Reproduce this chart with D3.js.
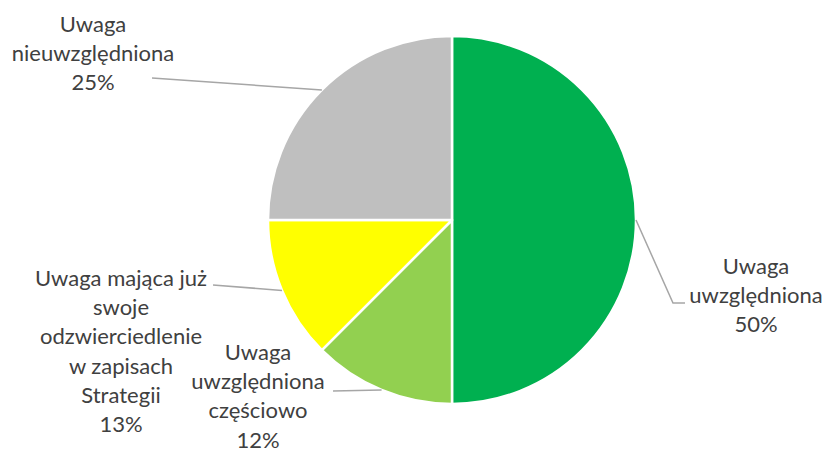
<!DOCTYPE html>
<html>
<head>
<meta charset="utf-8">
<script src="https://cdn.jsdelivr.net/npm/d3@7"></script>
<style>
  html, body { margin: 0; padding: 0; background: #fff; }
  #chart { width: 825px; height: 453px; }
</style>
</head>
<body>
<div id="chart"></div>
<script>
// data
var categories = ["Uwaga uwzględniona", "Uwaga uwzględniona częściowo",
                  "Uwaga mająca już swoje odzwierciedlenie w zapisach Strategii", "Uwaga nieuwzględniona"];
var shares = [50, 12.5, 12.5, 25];
var percentLabels = ["50%", "12%", "13%", "25%"];
var labelLines = [
    ["Uwaga", "uwzględniona"],
    ["Uwaga", "uwzględniona", "częściowo"],
    ["Uwaga mająca już", "swoje", "odzwierciedlenie", "w zapisach", "Strategii"],
    ["Uwaga", "nieuwzględniona"]
];
var colors = ["#00B050", "#92D050", "#FFFF00", "#BFBFBF"];

var width = 825, height = 453;
var cx = 452, cy = 220, radius = 184;
var lineHeight = 29.2;

// label placement (centre x, first baseline y) and leader start / elbow
var labelLayout = [
    {x: 756, y: 274, leader: [[685, 303], [673, 303]]},
    {x: 258, y: 360, leader: [[333, 391]]},
    {x: 121, y: 286, leader: [[213, 285]]},
    {x: 93,  y: 32,  leader: [[152, 78]]}
];

var svg = d3.select("#chart").append("svg")
    .attr("width", width)
    .attr("height", height);

var pie = d3.pie().sort(null).value(function(d) { return d; });
var arcs = pie(shares);

var arc = d3.arc().innerRadius(0).outerRadius(radius);

var g = svg.append("g")
    .attr("transform", "translate(" + cx + "," + cy + ")");

g.selectAll(".slice")
    .data(arcs)
  .enter().append("path")
    .attr("class", "slice")
    .attr("d", arc)
    .attr("fill", function(d, i) { return colors[i]; })
    .attr("stroke", "#fff")
    .attr("stroke-width", 2.5)
    .attr("stroke-linejoin", "round");

// leader lines
svg.selectAll(".leader")
    .data(arcs)
  .enter().append("polyline")
    .attr("class", "leader")
    .attr("points", function(d, i) {
        var mid = (d.startAngle + d.endAngle) / 2;
        var end = [cx + radius * Math.sin(mid), cy - radius * Math.cos(mid)];
        var pts = labelLayout[i].leader.concat([end]);
        return pts.map(function(p) { return p.join(","); }).join(" ");
    })
    .attr("fill", "none")
    .attr("stroke", "#A6A6A6")
    .attr("stroke-width", 1.5);

// labels
var labels = svg.selectAll(".label")
    .data(arcs)
  .enter().append("text")
    .attr("class", "label")
    .attr("text-anchor", "middle")
    .style("font-family", "Lato, 'Open Sans', sans-serif")
    .style("font-size", "22px")
    .style("fill", "#404040");

labels.each(function(d, i) {
    var t = d3.select(this);
    var lines = labelLines[i].concat([percentLabels[i]]);
    lines.forEach(function(s, k) {
        t.append("tspan")
            .attr("x", labelLayout[i].x)
            .attr("y", labelLayout[i].y + k * lineHeight)
            .text(s);
    });
});
</script>
</body>
</html>
